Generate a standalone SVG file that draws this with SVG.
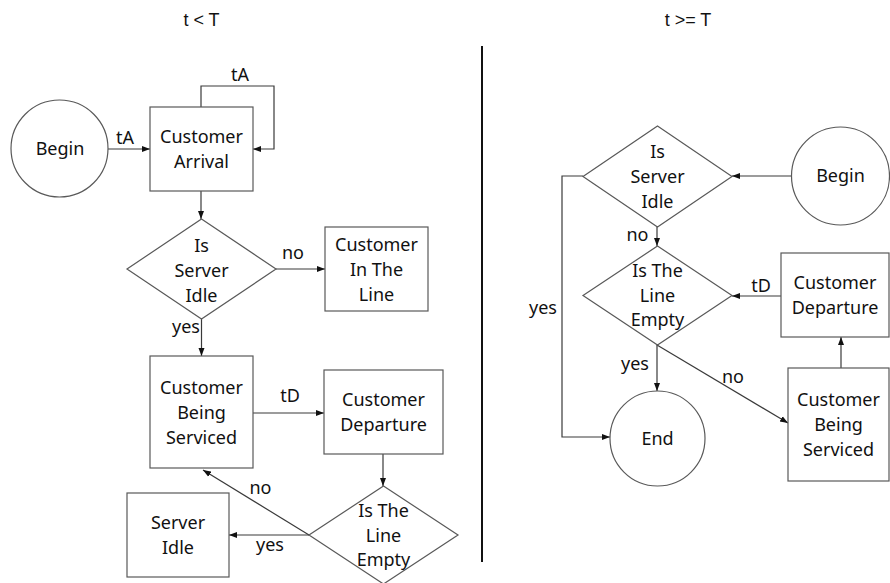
<svg xmlns="http://www.w3.org/2000/svg" width="890" height="583" viewBox="0 0 890 583">
  <style>
    .shape { fill: #ffffff; stroke: #595959; stroke-width: 1.2; }
    .edge { fill: none; stroke: #3a3a3a; stroke-width: 1.2; marker-end: url(#arrow); }
    .txt { font-family: "Noto Sans", "Open Sans", sans-serif; font-size: 18px; fill: #111; text-anchor: middle; }
    .hdr { font-family: "Liberation Sans", Arial, sans-serif; font-size: 18px; fill: #111; text-anchor: middle; }
  </style>
  <defs>
    <marker id="arrow" markerUnits="userSpaceOnUse" markerWidth="8" markerHeight="8" viewBox="0 0 8 8" refX="8" refY="4" orient="auto">
      <path d="M0,1 L8,4 L0,7 Z" fill="#111"/>
    </marker>
  </defs>
  <rect width="890" height="583" fill="#ffffff"/>

  <!-- section headers and divider -->
  <text class="hdr" x="201.5" y="26">t &lt; T</text>
  <text class="hdr" x="688" y="26">t &gt;= T</text>
  <line x1="482" y1="46" x2="482" y2="562" stroke="#111" stroke-width="2"/>

  <!-- connectors -->
  <g id="connectors">
    <!-- left: t < T -->
    <path class="edge" d="M108,149 H150"/>
    <path class="edge" d="M201,107 V86 H274 V149 H253"/>
    <path class="edge" d="M201,191 V219"/>
    <path class="edge" d="M276,269 H325"/>
    <path class="edge" d="M201.5,319 V356"/>
    <path class="edge" d="M253,413 H324"/>
    <path class="edge" d="M383,454 V486"/>
    <path class="edge" d="M309,535 H229"/>
    <path class="edge" d="M309,535 L203,470"/>
    <!-- right: t >= T -->
    <path class="edge" d="M792,176 H732"/>
    <path class="edge" d="M657,227 V246"/>
    <path class="edge" d="M781,296 H732"/>
    <path class="edge" d="M657,345 V391"/>
    <path class="edge" d="M657,345 L788,423"/>
    <path class="edge" d="M841,368 V337"/>
    <path class="edge" d="M583,176 H562 V437 H610"/>

    <!-- connector labels -->
    <text class="txt" x="125" y="144">tA</text>
    <text class="txt" x="240" y="81">tA</text>
    <text class="txt" x="293" y="259">no</text>
    <text class="txt" x="186" y="333">yes</text>
    <text class="txt" x="290" y="402">tD</text>
    <text class="txt" x="260.5" y="494">no</text>
    <text class="txt" x="270" y="551">yes</text>
    <text class="txt" x="637.5" y="241">no</text>
    <text class="txt" x="761" y="292">tD</text>
    <text class="txt" x="543" y="314">yes</text>
    <text class="txt" x="635" y="370">yes</text>
    <text class="txt" x="733" y="383">no</text>
  </g>

  <!-- left flow nodes -->
  <g id="begin-left">
    <circle class="shape" cx="59.5" cy="148.5" r="48.5"/>
    <text class="txt" x="60" y="155">Begin</text>
  </g>
  <g id="customer-arrival">
    <rect class="shape" x="150" y="107" width="103" height="84"/>
    <text class="txt" x="201.5" y="143">Customer</text>
    <text class="txt" x="201.5" y="168">Arrival</text>
  </g>
  <g id="server-idle-check-left">
    <polygon class="shape" points="201.5,219 276,269 201.5,319 127,269"/>
    <text class="txt" x="201.5" y="252">Is</text>
    <text class="txt" x="201.5" y="277">Server</text>
    <text class="txt" x="201.5" y="302">Idle</text>
  </g>
  <g id="customer-in-line">
    <rect class="shape" x="325" y="227" width="103" height="84"/>
    <text class="txt" x="376.5" y="251">Customer</text>
    <text class="txt" x="376.5" y="276">In The</text>
    <text class="txt" x="376.5" y="301">Line</text>
  </g>
  <g id="being-serviced-left">
    <rect class="shape" x="150" y="356" width="103" height="112"/>
    <text class="txt" x="201.5" y="394">Customer</text>
    <text class="txt" x="201.5" y="419">Being</text>
    <text class="txt" x="201.5" y="444">Serviced</text>
  </g>
  <g id="departure-left">
    <rect class="shape" x="324" y="370" width="119" height="84"/>
    <text class="txt" x="383.5" y="406">Customer</text>
    <text class="txt" x="383.5" y="431">Departure</text>
  </g>
  <g id="line-empty-check-left">
    <polygon class="shape" points="383.5,486 458,535 383.5,584 309,535"/>
    <text class="txt" x="383.5" y="517">Is The</text>
    <text class="txt" x="383.5" y="542">Line</text>
    <text class="txt" x="383.5" y="566">Empty</text>
  </g>
  <g id="server-idle">
    <rect class="shape" x="127" y="493" width="102" height="84"/>
    <text class="txt" x="178" y="529">Server</text>
    <text class="txt" x="178" y="554">Idle</text>
  </g>

  <!-- right flow nodes -->
  <g id="server-idle-check-right">
    <polygon class="shape" points="657.5,126 732,176.5 657.5,227 583,176.5"/>
    <text class="txt" x="657.5" y="158">Is</text>
    <text class="txt" x="657.5" y="183">Server</text>
    <text class="txt" x="657.5" y="208">Idle</text>
  </g>
  <g id="begin-right">
    <circle class="shape" cx="840.5" cy="176" r="49"/>
    <text class="txt" x="840.5" y="182">Begin</text>
  </g>
  <g id="line-empty-check-right">
    <polygon class="shape" points="657.5,246 732,295.5 657.5,345 583,295.5"/>
    <text class="txt" x="657.5" y="277">Is The</text>
    <text class="txt" x="657.5" y="302">Line</text>
    <text class="txt" x="657.5" y="326">Empty</text>
  </g>
  <g id="departure-right">
    <rect class="shape" x="781" y="253" width="108" height="84"/>
    <text class="txt" x="835" y="289">Customer</text>
    <text class="txt" x="835" y="314">Departure</text>
  </g>
  <g id="end">
    <circle class="shape" cx="657.5" cy="438.5" r="47.5"/>
    <text class="txt" x="657.5" y="445">End</text>
  </g>
  <g id="being-serviced-right">
    <rect class="shape" x="788" y="368" width="101" height="113"/>
    <text class="txt" x="838.5" y="406">Customer</text>
    <text class="txt" x="838.5" y="431">Being</text>
    <text class="txt" x="838.5" y="456">Serviced</text>
  </g>
</svg>
